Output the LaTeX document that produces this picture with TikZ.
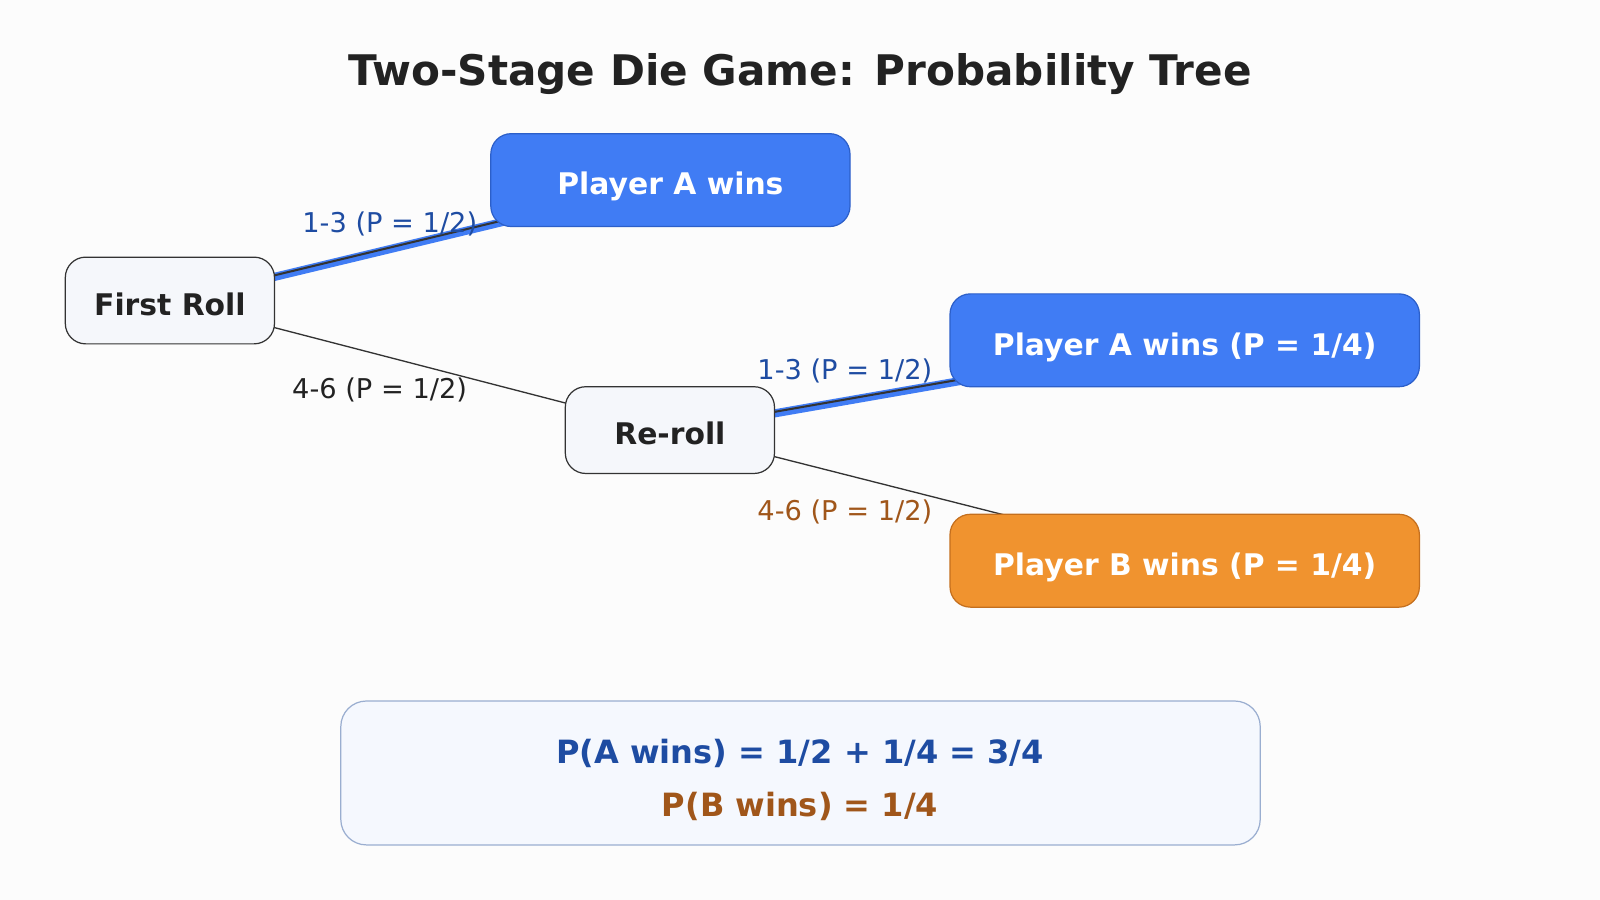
\documentclass[tikz,border=0pt]{standalone}
\usepackage{fontspec}
\setmainfont{DejaVu Sans}
\definecolor{bgc}{HTML}{FCFCFC}
\definecolor{titlec}{HTML}{222222}
\definecolor{neutralfill}{HTML}{F5F7FB}
\definecolor{neutraldraw}{HTML}{333333}
\definecolor{bluefill}{HTML}{407CF4}
\definecolor{bluedraw}{HTML}{2C5FC9}
\definecolor{orangefill}{HTML}{F0932F}
\definecolor{orangedraw}{HTML}{C46F1E}
\definecolor{bluetext}{HTML}{1E4CA2}
\definecolor{browntext}{HTML}{A0561A}
\definecolor{sumfill}{HTML}{F5F8FE}
\definecolor{sumdraw}{HTML}{9AAED0}
\pgfdeclarelayer{bgfill}
\pgfdeclarelayer{edges}
\pgfsetlayers{bgfill,edges,main}
\tikzset{
  basebox/.style={rounded corners=20pt, inner sep=0pt, line width=1.2pt,
    font=\fontsize{29.2}{34}\selectfont\bfseries, text height=29pt, text depth=0pt},
  neutralbox/.style={basebox, fill=neutralfill, draw=neutraldraw, text=titlec,
    minimum width=205pt, minimum height=85pt},
  bluebox/.style={basebox, fill=bluefill, draw=bluedraw, text=white},
  orangebox/.style={basebox, fill=orangefill, draw=orangedraw, text=white},
  edgelabel/.style={font=\fontsize{26.7}{31}\selectfont, inner sep=0pt},
  plainedge/.style={draw=neutraldraw, line width=1.3pt},
  hiband/.style={draw=bluefill, line width=8pt},
  hicore/.style={draw=neutraldraw, line width=2pt},
}
\begin{document}
\begin{tikzpicture}[x=1pt,y=-1pt]
\begin{pgfonlayer}{bgfill}
\fill[bgc] (0,0) rectangle (1568,882);
\end{pgfonlayer}
\useasboundingbox (0,0) rectangle (1568,882);
\node[font=\fontsize{41.3}{48}\selectfont\bfseries, text=titlec] (title) at (784,73) {Two-Stage Die Game: Probability Tree};

\node[neutralbox] (first) at (166.5,294.5) {First Roll};
\node[neutralbox] (reroll) at (656.5,421.5) {Re-roll};
\node[bluebox, minimum width=352pt, minimum height=91pt] (pa1) at (657,176.5) {Player A wins};
\node[bluebox, minimum width=460pt, minimum height=91pt] (pa2) at (1161,333.5) {Player A wins (P = 1/4)};
\node[orangebox, minimum width=460pt, minimum height=91pt] (pb) at (1161,549.5) {Player B wins (P = 1/4)};

\begin{pgfonlayer}{edges}
\draw[hiband] ([yshift=-1.5pt]first.center) -- ([yshift=-1.5pt]pa1.center);
\draw[hicore] (first.center) -- (pa1.center);
\draw[plainedge] (first.center) -- (reroll.center);
\draw[hiband] ([yshift=-1.5pt]reroll.center) -- ([yshift=-1.5pt]pa2.center);
\draw[hicore] (reroll.center) -- (pa2.center);
\draw[plainedge] (reroll.center) -- (pb.center);
\end{pgfonlayer}

\node[edgelabel, text=bluetext] (l1) at (382,219) {1-3 (P = 1/2)};
\node[edgelabel, text=titlec] (l2) at (372,382) {4-6 (P = 1/2)};
\node[edgelabel, text=bluetext] (l3) at (828,364) {1-3 (P = 1/2)};
\node[edgelabel, text=browntext] (l4) at (828,502) {4-6 (P = 1/2)};

\node[rounded corners=25pt, fill=sumfill, draw=sumdraw, line width=1.2pt,
  minimum width=901pt, minimum height=141pt] (sum) at (784.5,757.5) {};
\node[font=\fontsize{31.4}{36}\selectfont\bfseries, text=bluetext] (s1) at (784,738) {P(A wins) = 1/2 + 1/4 = 3/4};
\node[font=\fontsize{31.4}{36}\selectfont\bfseries, text=browntext] (s2) at (784,790) {P(B wins) = 1/4};
\end{tikzpicture}
\end{document}
